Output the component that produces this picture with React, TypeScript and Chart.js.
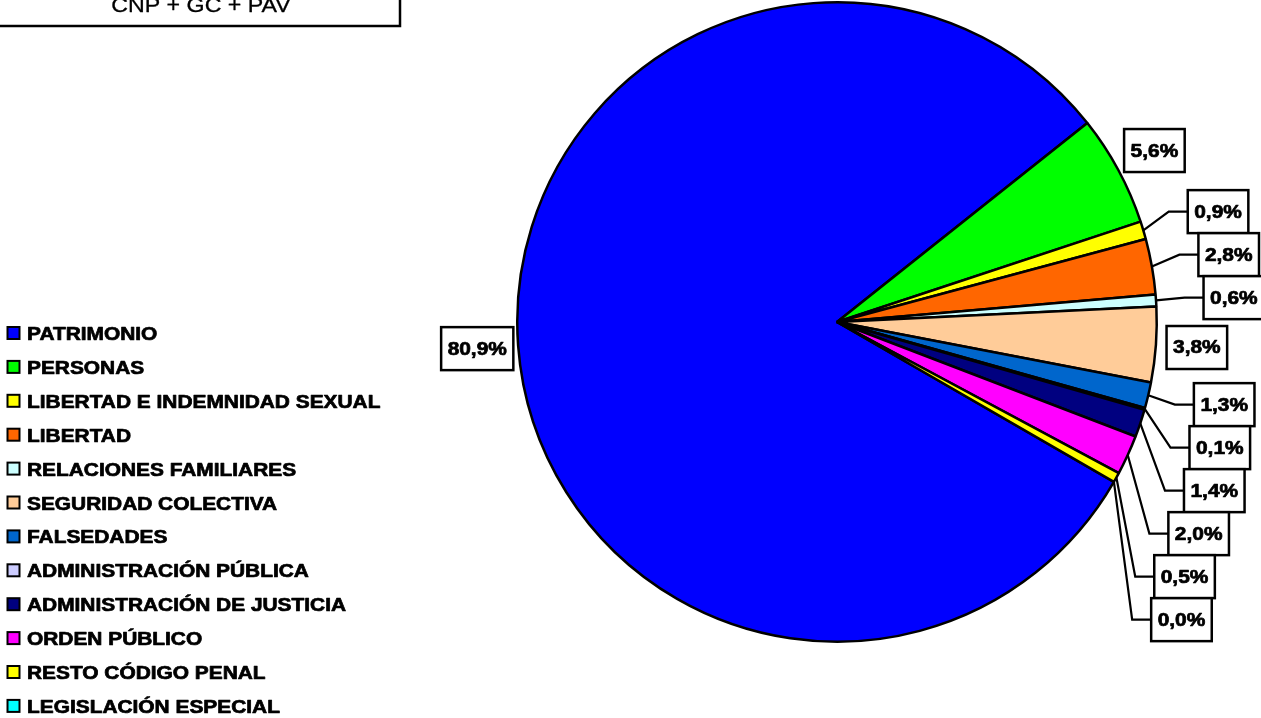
import { useEffect, useRef } from "react";
import Chart from "chart.js/auto";

const categories = [
  "PATRIMONIO",
  "PERSONAS",
  "LIBERTAD E INDEMNIDAD SEXUAL",
  "LIBERTAD",
  "RELACIONES FAMILIARES",
  "SEGURIDAD COLECTIVA",
  "FALSEDADES",
  "ADMINISTRACIÓN PÚBLICA",
  "ADMINISTRACIÓN DE JUSTICIA",
  "ORDEN PÚBLICO",
  "RESTO CÓDIGO PENAL",
  "LEGISLACIÓN ESPECIAL",
];
const shares = [80.9, 5.6, 0.9, 2.8, 0.6, 3.8, 1.3, 0.1, 1.4, 2.0, 0.5, 0.0];
const sliceColors = [
  "#0000FF",
  "#00FF00",
  "#FFFF00",
  "#FF6600",
  "#CCFFFF",
  "#FFCC99",
  "#0066CC",
  "#CCCCFF",
  "#000080",
  "#FF00FF",
  "#FFFF00",
  "#00FFFF",
];
const titleText = "CNP + GC + PAV";

const FONT = '"Liberation Sans", Arial, Helvetica, sans-serif';
const STRETCH = 1.16;

function fmt(v: number) {
  return v.toFixed(1).replace(".", ",") + "%";
}

function stretchedText(
  ctx: CanvasRenderingContext2D,
  text: string,
  x: number,
  y: number,
  thicken = 0.7
) {
  ctx.save();
  ctx.translate(x, y);
  ctx.scale(STRETCH, 1);
  ctx.fillText(text, 0, 0);
  if (thicken > 0) {
    ctx.lineWidth = thicken;
    ctx.strokeStyle = ctx.fillStyle as string;
    ctx.lineJoin = "round";
    ctx.strokeText(text, 0, 0);
  }
  ctx.restore();
}

const overlay = {
  id: "overlay",
  afterDraw(chart: any) {
    const ctx: CanvasRenderingContext2D = chart.ctx;
    const meta = chart.getDatasetMeta(0);

    // Title box (partially cut at the top)
    ctx.save();
    ctx.fillStyle = "#fff";
    ctx.fillRect(-5, -30, 405, 56);
    ctx.strokeStyle = "#000";
    ctx.lineWidth = 2.5;
    ctx.strokeRect(-5, -30, 405, 56);
    ctx.fillStyle = "#000";
    ctx.font = `20px ${FONT}`;
    ctx.textAlign = "center";
    ctx.textBaseline = "alphabetic";
    stretchedText(ctx, titleText, 201, 12, 0.3);
    ctx.restore();

    // Legend
    ctx.save();
    ctx.font = `bold 18px ${FONT}`;
    ctx.textAlign = "left";
    ctx.textBaseline = "alphabetic";
    categories.forEach((name, i) => {
      const base = 340 + i * 33.9;
      ctx.fillStyle = sliceColors[i];
      ctx.fillRect(7.5, base - 13, 12, 12);
      ctx.strokeStyle = "#000";
      ctx.lineWidth = 2;
      ctx.strokeRect(7.5, base - 13, 12, 12);
      ctx.fillStyle = "#000";
      stretchedText(ctx, name, 27, base);
    });
    ctx.restore();

    // Data labels
    const items = meta.data.map((arc: any, i: number) => {
      const p = arc.getProps(["x", "y", "startAngle", "endAngle", "outerRadius"], true);
      const mid = (p.startAngle + p.endAngle) / 2;
      const spanDeg = ((p.endAngle - p.startAngle) * 180) / Math.PI;
      const leader = spanDeg < 12;
      const cos = Math.cos(mid);
      const sin = Math.sin(mid);
      const r = p.outerRadius;
      return {
        i,
        leader,
        cos,
        sin,
        x: p.x + (r + (leader ? 78 : 41)) * cos,
        y: p.y + (r + 41) * sin,
        ax: p.x + r * cos,
        ay: p.y + r * sin,
        text: fmt(shares[i]),
      };
    });

    const GAP = 43;
    [true, false].forEach((right) => {
      const side = items.filter((it: any) => (it.cos >= 0) === right);
      const upper = side.filter((it: any) => it.sin < 0).sort((a: any, b: any) => b.y - a.y);
      const lower = side.filter((it: any) => it.sin >= 0).sort((a: any, b: any) => a.y - b.y);
      for (let k = 1; k < upper.length; k++) {
        upper[k].y = Math.min(upper[k].y, upper[k - 1].y - GAP);
      }
      let prev = upper.length ? upper[0] : null;
      for (let k = 0; k < lower.length; k++) {
        if (prev) lower[k].y = Math.max(lower[k].y, prev.y + GAP);
        prev = lower[k];
      }
    });

    ctx.save();
    ctx.font = `bold 18px ${FONT}`;
    ctx.strokeStyle = "#000";
    items.forEach((it: any) => {
      const tw = ctx.measureText(it.text).width * STRETCH;
      const w = tw + 13;
      const h = 43;
      const left = it.x - w / 2;
      if (it.leader) {
        const right = it.cos >= 0;
        const edge = right ? left : left + w;
        const elbow = right ? edge - 19 : edge + 19;
        ctx.lineWidth = 2.2;
        ctx.beginPath();
        ctx.moveTo(it.ax, it.ay);
        ctx.lineTo(elbow, it.y);
        ctx.lineTo(edge, it.y);
        ctx.stroke();
      }
      ctx.fillStyle = "#fff";
      ctx.fillRect(left, it.y - h / 2, w, h);
      ctx.lineWidth = 2.5;
      ctx.strokeRect(left, it.y - h / 2, w, h);
      ctx.fillStyle = "#000";
      ctx.textAlign = "center";
      ctx.textBaseline = "middle";
      stretchedText(ctx, it.text, it.x, it.y + 1);
    });
    ctx.restore();
  },
};

export default function App() {
  const ref = useRef<HTMLCanvasElement>(null);
  useEffect(() => {
    const chart = new Chart(ref.current!, {
      type: "pie",
      data: {
        labels: categories,
        datasets: [
          {
            data: shares,
            backgroundColor: sliceColors,
            borderColor: "#000",
            borderWidth: 2.5,
          },
        ],
      },
      options: {
        responsive: false,
        animation: false,
        devicePixelRatio: 1,
        rotation: 120,
        layout: { padding: { left: 516, right: 103, top: 1, bottom: 75 } },
        plugins: {
          legend: { display: false },
          tooltip: { enabled: false },
        },
      },
      plugins: [overlay],
    } as any);
    return () => chart.destroy();
  }, []);
  return (
    <div style={{ position: "fixed", left: 0, top: 0, width: 1261, height: 718, background: "#fff" }}>
      <canvas ref={ref} width={1261} height={718} style={{ display: "block" }} />
    </div>
  );
}
